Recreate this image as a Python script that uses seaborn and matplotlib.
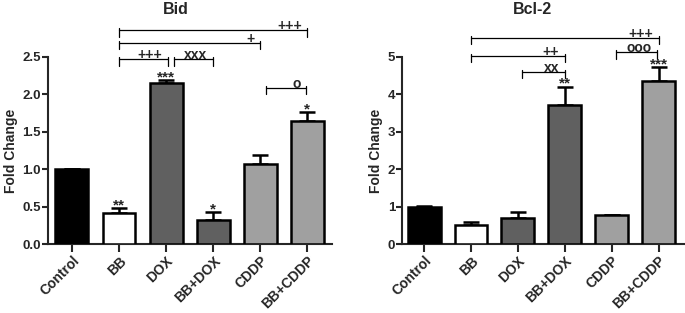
import numpy as np
import pandas as pd
import matplotlib
matplotlib.use("Agg")
import matplotlib.pyplot as plt
import seaborn as sns

# --- data ---
groups = ["Control", "BB", "DOX", "BB+DOX", "CDDP", "BB+CDDP"]
bar_colors = ["#000000", "#ffffff", "#606060", "#606060", "#a0a0a0", "#a0a0a0"]

bid_mean = [1.00, 0.41, 2.15, 0.32, 1.07, 1.64]
bid_sem = [0.005, 0.07, 0.04, 0.11, 0.12, 0.12]
bid_stars = ["", "**", "***", "*", "", "*"]

bcl2_mean = [1.00, 0.50, 0.69, 3.73, 0.78, 4.35]
bcl2_sem = [0.01, 0.08, 0.17, 0.48, 0.01, 0.38]
bcl2_stars = ["", "", "", "**", "", "***"]

# comparisons: (from group, to group, label)
bid_pairs = [("BB", "DOX", "+++"), ("DOX", "BB+DOX", "xxx"),
             ("BB", "CDDP", "+"), ("BB", "BB+CDDP", "+++"),
             ("CDDP", "BB+CDDP", "o")]
bcl2_pairs = [("BB", "BB+CDDP", "+++"), ("BB", "BB+DOX", "++"),
              ("DOX", "BB+DOX", "xx"), ("CDDP", "BB+CDDP", "ooo")]

sns.set_style("ticks")
plt.rcParams["font.family"] = ["Liberation Sans", "DejaVu Sans"]
plt.rcParams["font.weight"] = "bold"


def draw_panel(ax, means, sems, stars, pairs, levels, nudges, title, title_x,
               ymax, yticks, fmt):
    df = pd.DataFrame({"group": groups, "value": means})
    sns.barplot(data=df, x="group", y="value", hue="group", palette=bar_colors,
                edgecolor="black", linewidth=1.8, width=0.7, errorbar=None,
                legend=False, ax=ax, zorder=3)
    x = np.arange(len(groups))
    ax.errorbar(x, means, yerr=[np.zeros(len(means)), sems], fmt="none",
                ecolor="black", elinewidth=1.8, capsize=6, capthick=1.8, zorder=2)

    # asterisks over bars
    for xi, m, s, st in zip(x, means, sems, stars):
        if st:
            ax.annotate(st, (xi, m + s), xytext=(0, -1), textcoords="offset points",
                        ha="center", va="baseline", fontsize=11, fontweight="bold")

    # comparison brackets
    for (a, b, lab), lev, (na, nb) in zip(pairs, levels, nudges):
        x1 = groups.index(a) + na
        x2 = groups.index(b) + nb
        kw = dict(color="black", lw=0.9, clip_on=False)
        ax.plot([x1, x2], [lev, lev], **kw)
        tick = ymax * 0.035
        ax.plot([x1, x1], [lev - tick, lev + tick * 0.3], **kw)
        ax.plot([x2, x2], [lev - tick, lev + tick * 0.3], **kw)
        ax.text(x2 - 0.12, lev, lab, ha="right", va="baseline",
                fontsize=10, fontweight="bold")

    ax.set_ylim(0, ymax)
    ax.set_yticks(yticks)
    ax.set_yticklabels([fmt.format(t) for t in yticks], fontsize=9.5, fontweight="bold")
    ax.set_xticks(x)
    ax.set_xticklabels(groups, rotation=45, ha="right", rotation_mode="anchor",
                       fontsize=10, fontweight="bold")
    ax.set_xlabel("")
    ax.set_ylabel("Fold Change", fontsize=10, fontweight="bold", labelpad=3)
    ax.set_title(title, fontsize=11.5, fontweight="bold", pad=0, x=title_x, y=1.23)
    for sp in ["top", "right"]:
        ax.spines[sp].set_visible(False)
    for sp in ["left", "bottom"]:
        ax.spines[sp].set_linewidth(1.5)
    ax.tick_params(axis="y", length=4, width=1.5, pad=1)
    ax.tick_params(axis="x", length=6, width=1.5, pad=1)


fig = plt.figure(figsize=(6.85, 3.13), dpi=100)
ax1 = fig.add_axes([0.070, 0.220, 0.415, 0.598])
ax2 = fig.add_axes([0.587, 0.220, 0.412, 0.598])

draw_panel(ax1, bid_mean, bid_sem, bid_stars, bid_pairs,
           [2.47, 2.47, 2.69, 2.86, 2.09],
           [(0.0, 0.04), (0.16, 0.0), (0.0, 0.0), (0.0, 0.0), (0.13, -0.02)],
           "Bid", 0.451, 2.5, [0.0, 0.5, 1.0, 1.5, 2.0, 2.5], "{:.1f}")
ax1.set_xlim(-0.51, 5.53)

draw_panel(ax2, bcl2_mean, bcl2_sem, bcl2_stars, bcl2_pairs,
           [5.51, 5.03, 4.60, 5.13],
           [(0.0, 0.0), (0.0, 0.0), (0.09, 0.0), (0.1, -0.03)],
           "Bcl-2", 0.463, 5, [0, 1, 2, 3, 4, 5], "{:d}")
ax2.set_xlim(-0.47, 5.55)

fig.savefig("out.png", dpi=100)
